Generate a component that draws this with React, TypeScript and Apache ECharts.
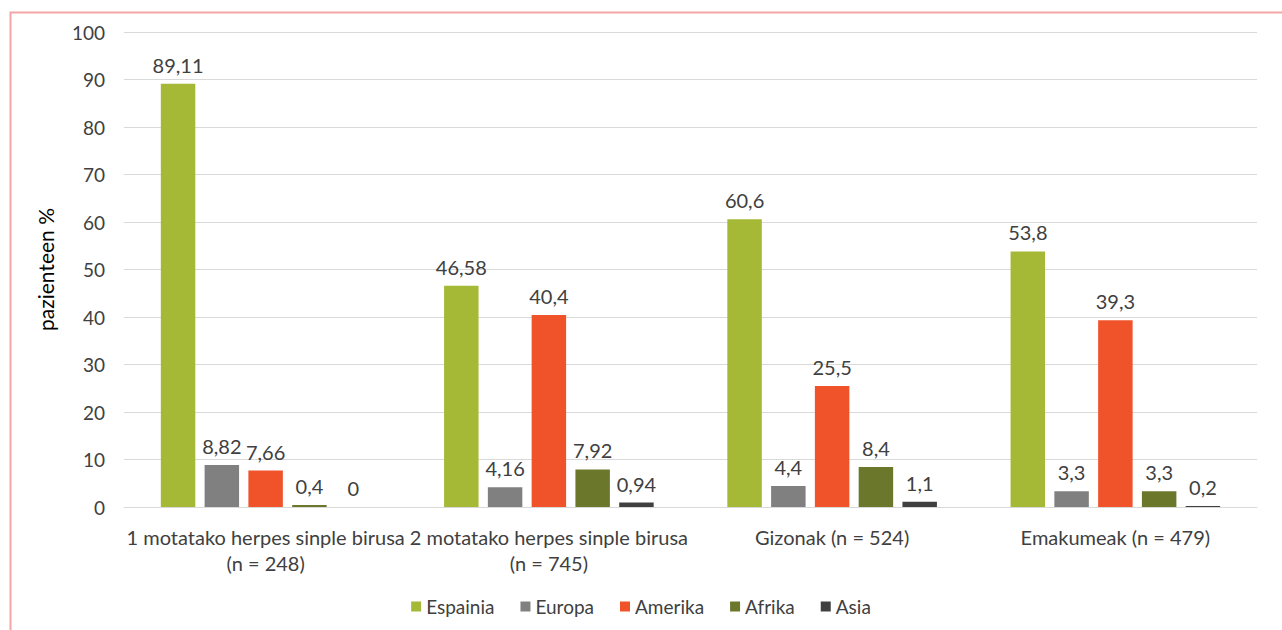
import React, { useEffect, useRef } from "react";
import * as echarts from "echarts";

const categories = [
  "1 motatako herpes sinple birusa\n(n = 248)",
  "2 motatako herpes sinple birusa\n(n = 745)",
  "Gizonak (n = 524)",
  "Emakumeak (n = 479)",
];
const seriesNames = ["Espainia", "Europa", "Amerika", "Afrika", "Asia"];
const espainia = [89.11, 46.58, 60.6, 53.8];
const europa = [8.82, 4.16, 4.4, 3.3];
const amerika = [7.66, 40.4, 25.5, 39.3];
const afrika = [0.4, 7.92, 8.4, 3.3];
const asia = [0, 0.94, 1.1, 0.2];
const colors = ["#A5B936", "#808080", "#F0532A", "#6B782C", "#404040"];
const yTicks = { min: 0, max: 100, interval: 10 };

const FONT = "Lato";

export default function App() {
  const ref = useRef<HTMLDivElement>(null);
  useEffect(() => {
    if (!ref.current) return;
    const chart = echarts.init(ref.current, null, { renderer: "svg" });
    const data = [espainia, europa, amerika, afrika, asia];
    chart.setOption({
      animation: false,
      textStyle: { fontFamily: FONT },
      graphic: [
        {
          type: "rect",
          shape: { x: 10.5, y: 12.5, width: 1300, height: 700 },
          style: { fill: "none", stroke: "#F4A6A6", lineWidth: 2 },
          silent: true,
        },
      ],
      grid: { left: 124, right: 25, top: 32, bottom: 123 },
      legend: {
        data: seriesNames,
        bottom: 9,
        left: "center",
        itemWidth: 10,
        itemHeight: 10,
        itemGap: 26,
        icon: "rect",
        textStyle: { fontFamily: FONT, fontSize: 19, color: "#404040" },
      },
      xAxis: {
        type: "category",
        data: categories,
        axisLine: { lineStyle: { color: "#D9D9D9" } },
        axisTick: { show: false },
        axisLabel: {
          fontFamily: FONT,
          fontSize: 20,
          color: "#404040",
          margin: 17,
          lineHeight: 26,
          interval: 0,
        },
      },
      yAxis: {
        type: "value",
        min: yTicks.min,
        max: yTicks.max,
        interval: yTicks.interval,
        name: "pazienteen %",
        nameLocation: "middle",
        nameGap: 68,
        nameTextStyle: { fontFamily: FONT, fontSize: 21, color: "#000000" },
        axisLine: { show: false },
        axisTick: { show: false },
        axisLabel: { fontFamily: FONT, fontSize: 19, color: "#404040", margin: 19 },
        splitLine: { lineStyle: { color: "#D9D9D9", width: 1 } },
      },
      series: seriesNames.map((name, i) => ({
        name,
        type: "bar",
        data: data[i],
        barGap: "27%",
        barCategoryGap: "26%",
        itemStyle: { color: colors[i] },
        label: {
          show: true,
          position: "top",
          distance: 9,
          fontFamily: FONT,
          fontSize: 20,
          color: "#404040",
          formatter: (p: any) => String(p.value).replace(".", ","),
        },
      })),
    });
    return () => chart.dispose();
  }, []);
  return (
    <div
      ref={ref}
      style={{ position: "fixed", left: 0, top: 0, width: 1282, height: 630, background: "#fff" }}
    />
  );
}
